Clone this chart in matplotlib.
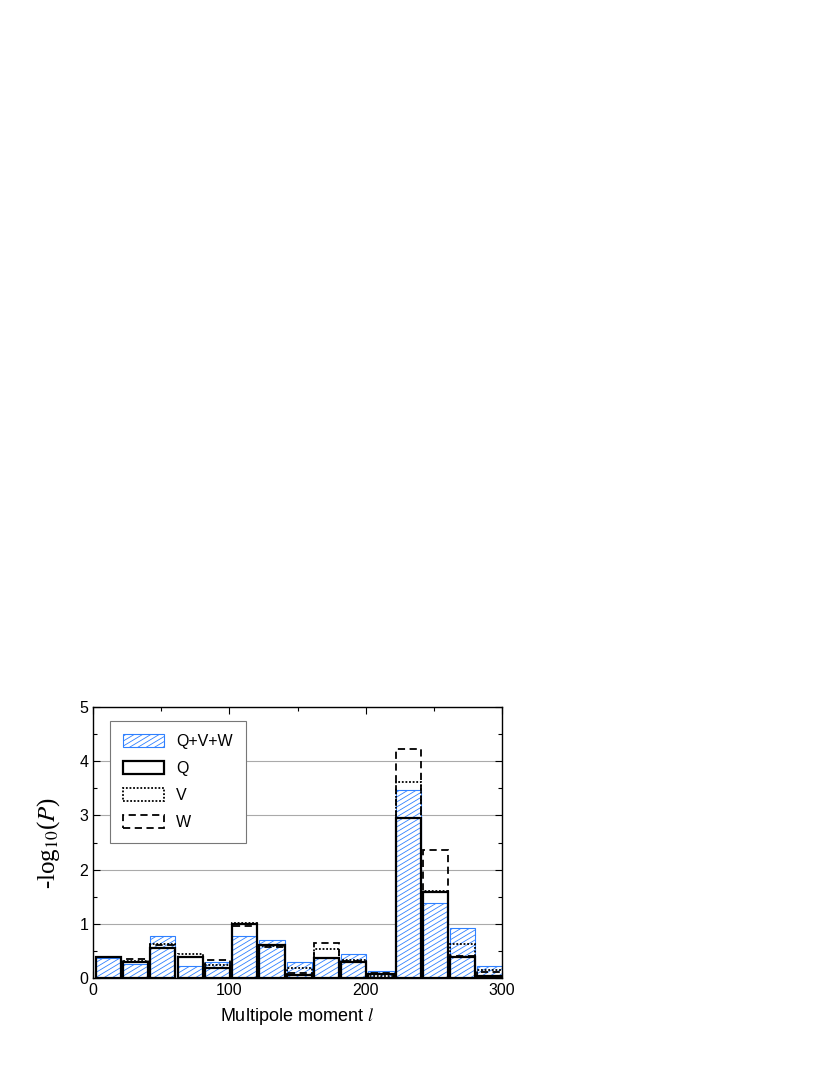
import matplotlib
matplotlib.use("Agg")
import matplotlib.pyplot as plt
import numpy as np
import warnings
from matplotlib import hatch as mhatch
from matplotlib.path import Path
from matplotlib.ticker import MultipleLocator
from matplotlib.patches import Patch

warnings.filterwarnings('ignore')
plt.rcParams['font.family'] = ['Liberation Sans', 'DejaVu Sans']
plt.rcParams['mathtext.fontset'] = 'stix'
plt.rcParams['hatch.linewidth'] = 0.6


class ShallowHatch(mhatch.HatchPatternBase):
    """Diagonal hatch at a shallow (~31 degree) angle; tiles seamlessly."""
    def __init__(self, hatch, density):
        self.n = 20 if 'z' in hatch else 0
        self.slope = 0.6
        idx = np.arange(-12, 21) if self.n else np.array([], dtype=int)
        self.idx = idx
        self.num_lines = len(idx)
        self.num_vertices = self.num_lines * 2

    def set_vertices_and_codes(self, vertices, codes):
        b = self.idx / self.n
        x0, x1 = -0.1, 1.1
        vertices[0::2, 0] = x0
        vertices[0::2, 1] = b + self.slope * x0
        vertices[1::2, 0] = x1
        vertices[1::2, 1] = b + self.slope * x1
        codes[0::2] = Path.MOVETO
        codes[1::2] = Path.LINETO


mhatch._hatch_types.append(ShallowHatch)

bin_left = np.arange(0, 300, 20)
qvw = [0.36, 0.25, 0.78, 0.22, 0.29, 0.77, 0.70, 0.30, 0.37, 0.45, 0.12, 3.46, 1.39, 0.92, 0.23]
q   = [0.39, 0.29, 0.55, 0.38, 0.19, 1.00, 0.60, 0.05, 0.375, 0.30, 0.08, 2.96, 1.58, 0.38, 0.04]
v   = [0.38, 0.31, 0.62, 0.44, 0.24, 1.02, 0.59, 0.18, 0.535, 0.34, 0.04, 3.61, 1.60, 0.62, 0.15]
w   = [0.38, 0.35, 0.60, 0.38, 0.34, 0.96, 0.58, 0.10, 0.64, 0.32, 0.10, 4.22, 2.37, 0.40, 0.11]

blue = '#2f80ff'
W_PX, H_PX = 830, 1075
fig = plt.figure(figsize=(8.3, 10.75), dpi=100)
ax = fig.add_axes([93/W_PX, 1-978/H_PX, (502-93)/W_PX, (978-707)/H_PX])

bw = 18.5
x0 = bin_left + 2
ax.bar(x0, qvw, width=bw, align='edge', facecolor='white', edgecolor=blue,
       hatch='z', linewidth=0.8, zorder=2)
ax.bar(x0, w, width=bw, align='edge', fill=False, edgecolor='black',
       linestyle=(0, (4, 2.5)), linewidth=1.3, zorder=3)
ax.bar(x0, v, width=bw, align='edge', fill=False, edgecolor='black',
       linestyle=(0, (1, 1)), linewidth=1.3, zorder=4)
ax.bar(x0, q, width=bw, align='edge', fill=False, edgecolor='black',
       linestyle='-', linewidth=1.6, zorder=5)

ax.set_xlim(0, 300)
ax.set_ylim(0, 5)
ax.xaxis.set_major_locator(MultipleLocator(100))
ax.xaxis.set_minor_locator(MultipleLocator(50))
ax.yaxis.set_major_locator(MultipleLocator(1))
ax.yaxis.set_minor_locator(MultipleLocator(0.5))
ax.tick_params(which='both', direction='in', top=True, right=True, labelsize=11.5)
ax.tick_params(which='major', length=5, width=0.8)
ax.tick_params(which='minor', length=3, width=0.8)
ax.grid(axis='y', which='major', color='#aaaaaa', linewidth=0.8, zorder=0)
ax.set_axisbelow(True)
for s in ax.spines.values():
    s.set_linewidth(1.0)

ax.set_xlabel(r'Multipole moment $l$', fontsize=13, labelpad=6)
ax.set_ylabel(r'-log$_{10}$($P$)', fontsize=18, family=['Liberation Serif'], labelpad=12)

handles = [
    Patch(facecolor='white', edgecolor=blue, hatch='z', linewidth=0.8, label='Q+V+W'),
    Patch(facecolor='none', edgecolor='black', linewidth=1.6, label='Q'),
    Patch(facecolor='none', edgecolor='black', linestyle=(0, (1, 1)), linewidth=1.3, label='V'),
    Patch(facecolor='none', edgecolor='black', linestyle=(0, (4, 2.5)), linewidth=1.3, label='W'),
]
leg = ax.legend(handles=handles, loc='upper left', bbox_to_anchor=(17/409, 1-14/271),
                borderaxespad=0, fontsize=11.5, handlelength=2.6, handleheight=0.9,
                labelspacing=0.75, handletextpad=0.75, borderpad=0.8,
                fancybox=False, framealpha=1, edgecolor='#777777')
leg.get_frame().set_linewidth(0.8)

fig.savefig('out.png', dpi=100)
